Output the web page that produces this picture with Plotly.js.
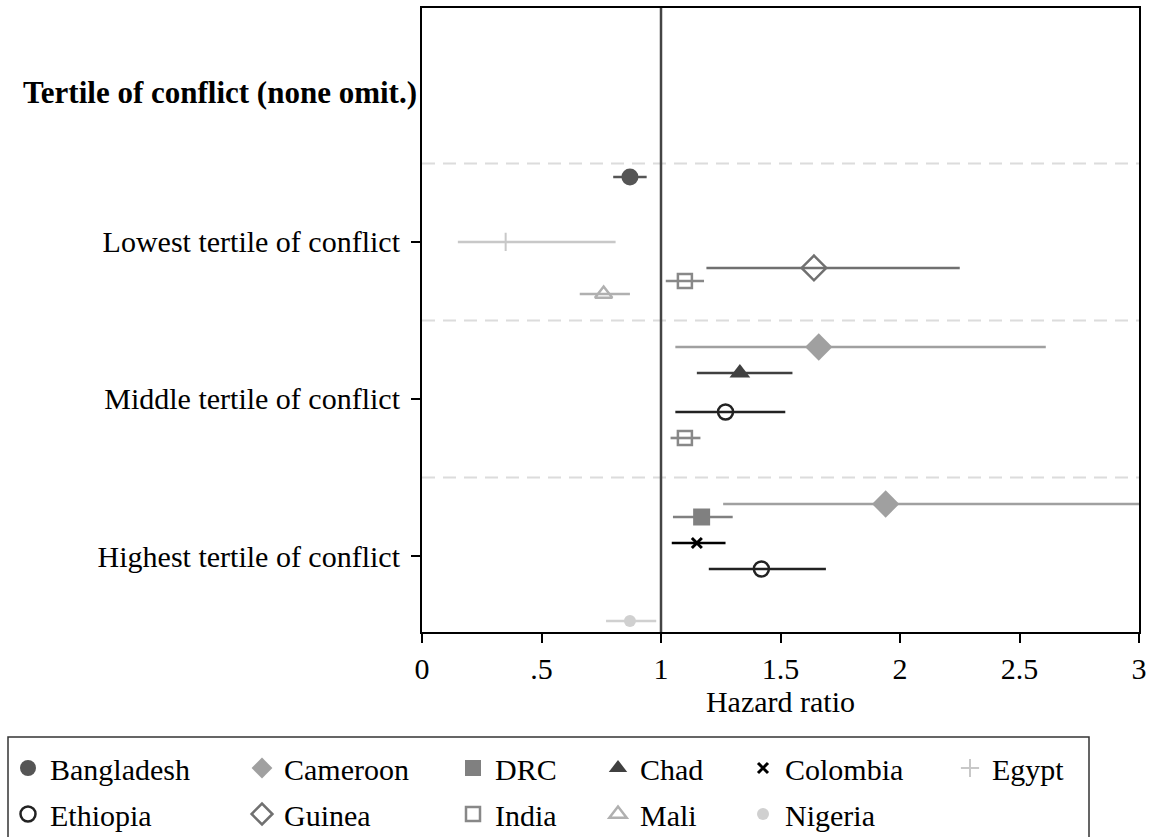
<!DOCTYPE html>
<html>
<head>
<meta charset="utf-8">
<script src="https://cdn.plot.ly/plotly-3.0.1.min.js"></script>
<style>html,body{margin:0;padding:0;background:#fff;}#chart{width:1151px;height:837px;}</style>
</head>
<body>
<div id="chart"></div>
<script>
// ---- data ----
const groupLabels = ["Lowest tertile of conflict", "Middle tertile of conflict", "Highest tertile of conflict"];
const headerLabel = "Tertile of conflict (none omit.)";
const countries = ["Bangladesh","Cameroon","DRC","Chad","Colombia","Egypt","Ethiopia","Guinea","India","Mali","Nigeria"];
// group index (1=Lowest, 2=Middle, 3=Highest), estimate, lower CI, upper CI
const bangladeshGroup = [1], bangladeshEst = [0.87], bangladeshLo = [0.80], bangladeshHi = [0.94];
const cameroonGroup = [2, 3], cameroonEst = [1.66, 1.94], cameroonLo = [1.06, 1.26], cameroonHi = [2.61, 3.10];
const drcGroup = [3], drcEst = [1.17], drcLo = [1.05], drcHi = [1.30];
const chadGroup = [2], chadEst = [1.33], chadLo = [1.15], chadHi = [1.55];
const colombiaGroup = [3], colombiaEst = [1.15], colombiaLo = [1.045], colombiaHi = [1.27];
const egyptGroup = [1], egyptEst = [0.35], egyptLo = [0.15], egyptHi = [0.81];
const ethiopiaGroup = [2, 3], ethiopiaEst = [1.27, 1.42], ethiopiaLo = [1.06, 1.20], ethiopiaHi = [1.52, 1.69];
const guineaGroup = [1], guineaEst = [1.64], guineaLo = [1.19], guineaHi = [2.25];
const indiaGroup = [1, 2], indiaEst = [1.10, 1.10], indiaLo = [1.02, 1.04], indiaHi = [1.18, 1.165];
const maliGroup = [1], maliEst = [0.76], maliLo = [0.66], maliHi = [0.87];
const nigeriaGroup = [3], nigeriaEst = [0.87], nigeriaLo = [0.77], nigeriaHi = [0.98];
const xTickVals = [0, 0.5, 1, 1.5, 2, 2.5, 3];
const xTickText = ["0", ".5", "1", "1.5", "2", "2.5", "3"];

const series = [
  {name:"Bangladesh", g:bangladeshGroup, e:bangladeshEst, lo:bangladeshLo, hi:bangladeshHi},
  {name:"Cameroon", g:cameroonGroup, e:cameroonEst, lo:cameroonLo, hi:cameroonHi},
  {name:"DRC", g:drcGroup, e:drcEst, lo:drcLo, hi:drcHi},
  {name:"Chad", g:chadGroup, e:chadEst, lo:chadLo, hi:chadHi},
  {name:"Colombia", g:colombiaGroup, e:colombiaEst, lo:colombiaLo, hi:colombiaHi},
  {name:"Egypt", g:egyptGroup, e:egyptEst, lo:egyptLo, hi:egyptHi},
  {name:"Ethiopia", g:ethiopiaGroup, e:ethiopiaEst, lo:ethiopiaLo, hi:ethiopiaHi},
  {name:"Guinea", g:guineaGroup, e:guineaEst, lo:guineaLo, hi:guineaHi},
  {name:"India", g:indiaGroup, e:indiaEst, lo:indiaLo, hi:indiaHi},
  {name:"Mali", g:maliGroup, e:maliEst, lo:maliLo, hi:maliHi},
  {name:"Nigeria", g:nigeriaGroup, e:nigeriaEst, lo:nigeriaLo, hi:nigeriaHi}
];

// ---- styles ----
const styles = {
  Bangladesh:{symbol:"circle", size:17, color:"#555555", lw:0, legend:"legend"},
  Cameroon:{symbol:"diamond", size:21, color:"#a0a0a0", lw:0, legend:"legend2"},
  DRC:{symbol:"square", size:17, color:"#808080", lw:0, legend:"legend3"},
  Chad:{symbol:"triangle-up", size:18, color:"#404040", lw:0, legend:"legend4"},
  Colombia:{symbol:"x-thin", size:10, color:"#000000", lw:3, legend:"legend5"},
  Egypt:{symbol:"cross-thin", size:13, color:"#c8c8c8", lw:2, legend:"legend6"},
  Ethiopia:{symbol:"circle-open", size:15, color:"#222222", lw:2.5, legend:"legend"},
  Guinea:{symbol:"diamond-open", size:19, color:"#707070", lw:2.5, legend:"legend2"},
  India:{symbol:"square-open", size:14, color:"#888888", lw:2.5, legend:"legend3"},
  Mali:{symbol:"triangle-up-open", size:15, color:"#b0b0b0", lw:2.5, legend:"legend4"},
  Nigeria:{symbol:"circle", size:12, color:"#d0d0d0", lw:0, legend:"legend5"}
};

const step = 0.0828;
const traces = series.map((s, i) => {
  const st = styles[s.name];
  const off = (i - 5) * step;
  return {
    type: "scatter", mode: "markers", name: s.name,
    legend: st.legend, legendgroup: s.name,
    x: s.e, y: s.g.map(v => v + off),
    error_x: {type:"data", symmetric:false,
      array: s.e.map((v,k) => s.hi[k] - v),
      arrayminus: s.e.map((v,k) => v - s.lo[k]),
      color: st.color, thickness: 2.6, width: 0},
    marker: {symbol: st.symbol, size: st.size, color: st.color,
      line: {color: st.color, width: st.lw}},
    cliponaxis: true, hoverinfo: "skip"
  };
});

const font = {family: "Liberation Serif", color: "#000"};
const F = (s) => Object.assign({size: s}, font);
const legendCols = [["legend", 28], ["legend2", 262], ["legend3", 473], ["legend4", 618], ["legend5", 763], ["legend6", 970]];
const L = 422, W = 717, B = 632, H = 624;
const layout = {
  width: 1151, height: 837,
  margin: {l: L, r: 1151 - L - W, t: 8, b: 837 - B, autoexpand: false},
  paper_bgcolor: "#fff", plot_bgcolor: "#fff",
  font: F(30),
  showlegend: true,
  xaxis: {range: [0, 3], tickvals: xTickVals, ticktext: xTickText,
    ticks: "outside", ticklen: 9, tickwidth: 2, tickcolor: "#000",
    showline: true, linecolor: "#000", linewidth: 2, mirror: true,
    showgrid: false, zeroline: false, tickfont: F(30),
    title: {text: "Hazard ratio", font: F(30), standoff: 2}},
  yaxis: {range: [3.484, -0.49], tickvals: [1, 2, 3], ticktext: groupLabels,
    ticks: "outside", ticklen: 9, tickwidth: 2, tickcolor: "#000",
    showline: true, linecolor: "#000", linewidth: 2, mirror: true,
    showgrid: false, zeroline: false, tickfont: F(30),
    ticklabelstandoff: 5},
  shapes: [
    ...[0.5, 1.5, 2.5].map(v => ({type: "line", xref: "x domain", yref: "y", x0: 0, x1: 1, y0: v, y1: v,
      line: {color: "#dcdcdc", width: 2, dash: "13px,8px"}, layer: "below"})),
    {type: "line", xref: "x", yref: "y domain", x0: 1, x1: 1, y0: 0, y1: 1,
      line: {color: "#444", width: 2.5}, layer: "above"},
    {type: "rect", xref: "paper", yref: "paper",
      x0: (8 - L) / W, x1: (1089 - L) / W, y0: (B - 737) / H, y1: (B - 845) / H,
      line: {color: "#333", width: 1.5}, fillcolor: "rgba(0,0,0,0)"}
  ],
  annotations: [
    {text: "<b>" + headerLabel + "</b>", xref: "paper", yref: "y", x: (419 - L) / W, y: 0.05,
      xanchor: "right", yanchor: "middle", showarrow: false, font: F(31)}
  ]
};
legendCols.forEach(([key, px]) => {
  layout[key] = {x: (px - 22 - L) / W, xanchor: "left", y: (B - 742) / H, yanchor: "top",
    orientation: "v", bgcolor: "rgba(0,0,0,0)", borderwidth: 0, tracegroupgap: 4, itemwidth: 34,
    font: F(30), itemclick: false, itemdoubleclick: false};
});

Plotly.newPlot("chart", traces, layout, {staticPlot: true});
</script>
</body>
</html>
